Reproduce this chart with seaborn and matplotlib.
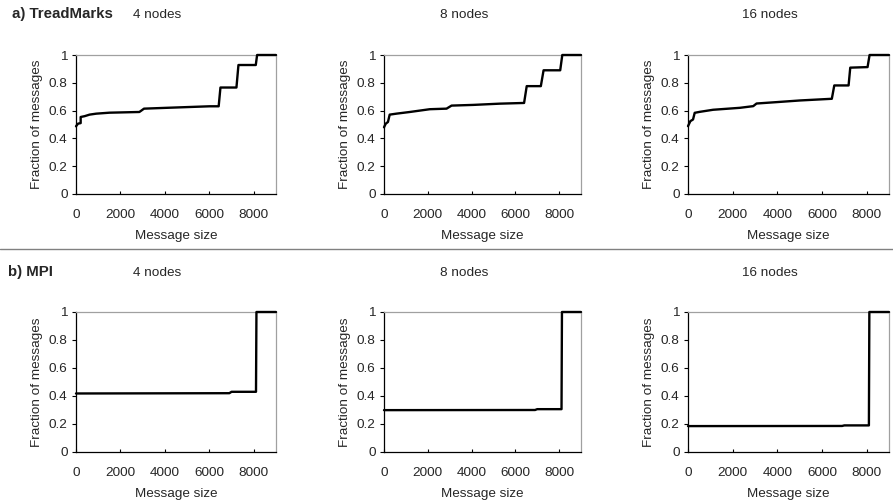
import matplotlib
matplotlib.use("Agg")
import matplotlib.pyplot as plt
from matplotlib.ticker import FuncFormatter
from matplotlib.lines import Line2D
import seaborn as sns

sns.set_style("white")
plt.rcParams["font.family"] = ["Liberation Sans", "DejaVu Sans"]

# ---- data (message size, cumulative fraction) ----
node_titles = ["4 nodes", "8 nodes", "16 nodes"]

tmk4_x = [0, 90, 210, 210, 390, 610, 910, 1510, 2850, 2940, 3060, 4080, 6010, 6420, 6500, 7220, 7310, 8090, 8150, 9000]
tmk4_y = [0.487, 0.506, 0.51, 0.554, 0.56, 0.571, 0.578, 0.585, 0.59, 0.6, 0.614, 0.62, 0.631, 0.631, 0.766, 0.766, 0.928, 0.928, 1.0, 1.0]

tmk8_x = [0, 80, 180, 260, 565, 1177, 2093, 2857, 3087, 4080, 5300, 6400, 6520, 7165, 7290, 8050, 8145, 9000]
tmk8_y = [0.48, 0.506, 0.518, 0.571, 0.578, 0.59, 0.61, 0.614, 0.636, 0.641, 0.65, 0.655, 0.776, 0.776, 0.89, 0.89, 1.0, 1.0]

tmk16_x = [0, 105, 225, 300, 525, 1124, 2322, 2920, 3070, 3970, 5020, 6440, 6550, 7190, 7265, 8040, 8130, 9000]
tmk16_y = [0.488, 0.524, 0.536, 0.584, 0.591, 0.606, 0.62, 0.632, 0.651, 0.661, 0.673, 0.685, 0.781, 0.781, 0.909, 0.913, 1.0, 1.0]

mpi4_x = [0, 6900, 7000, 8100, 8120, 9000]
mpi4_y = [0.418, 0.42, 0.43, 0.43, 1.0, 1.0]

mpi8_x = [0, 6900, 7000, 8110, 8130, 9000]
mpi8_y = [0.299, 0.3, 0.306, 0.306, 1.0, 1.0]

mpi16_x = [0, 6900, 7000, 8100, 8120, 9000]
mpi16_y = [0.185, 0.186, 0.19, 0.19, 1.0, 1.0]

rows = [
    [(tmk4_x, tmk4_y), (tmk8_x, tmk8_y), (tmk16_x, tmk16_y)],
    [(mpi4_x, mpi4_y), (mpi8_x, mpi8_y), (mpi16_x, mpi16_y)],
]

W, H = 893, 503
fig = plt.figure(figsize=(W / 100, H / 100), dpi=100)

# axes boxes in pixels: (left, width)
cols_px = [(76, 200), (384, 197), (688, 201)]
rows_px = [(55, 194), (312, 452)]  # (top, bottom)
title_x = [157, 464, 770]
title_y = [15, 273]
fs = 9.7


def fmt(v, pos):
    return "%g" % round(v, 1)


for r, (top, bot) in enumerate(rows_px):
    for c, (left, width) in enumerate(cols_px):
        ax = fig.add_axes([left / W, 1 - bot / H, width / W, (bot - top) / H])
        xs, ys = rows[r][c]
        sns.lineplot(x=xs, y=ys, ax=ax, color="black", linewidth=1.7,
                     estimator=None, sort=False, clip_on=False, zorder=5)
        ax.set_xlim(0, 9000)
        ax.set_ylim(0, 1)
        ax.set_xticks([0, 2000, 4000, 6000, 8000])
        ax.set_yticks([0, 0.2, 0.4, 0.6, 0.8, 1.0])
        ax.yaxis.set_major_formatter(FuncFormatter(fmt))
        ax.tick_params(axis="x", direction="in", length=2.5, width=0.8,
                       color="black", labelsize=fs, pad=11, bottom=True)
        ax.tick_params(axis="y", direction="out", length=3, width=0.8,
                       color="black", labelsize=fs, pad=3, left=True)
        for side in ["left", "bottom"]:
            ax.spines[side].set_color("black")
            ax.spines[side].set_linewidth(0.9)
        for side in ["top", "right"]:
            ax.spines[side].set_color("#a0a0a0")
            ax.spines[side].set_linewidth(0.9)
        ax.set_xlabel("Message size", fontsize=fs, labelpad=6)
        ax.set_ylabel("Fraction of messages", fontsize=fs, labelpad=4)
        fig.text(title_x[c] / W, 1 - title_y[r] / H, node_titles[c],
                 fontsize=fs, ha="center", va="center")

fig.text(12 / W, 1 - 14 / H, "a) TreadMarks", fontsize=10.8, fontweight="bold",
         ha="left", va="center")
fig.text(8 / W, 1 - 272 / H, "b) MPI", fontsize=10.8, fontweight="bold",
         ha="left", va="center")

fig.add_artist(Line2D([0, 1], [1 - 249 / H, 1 - 249 / H], color="#808080",
                      linewidth=1.0, transform=fig.transFigure))

fig.savefig("out.png", dpi=100, facecolor="white")
